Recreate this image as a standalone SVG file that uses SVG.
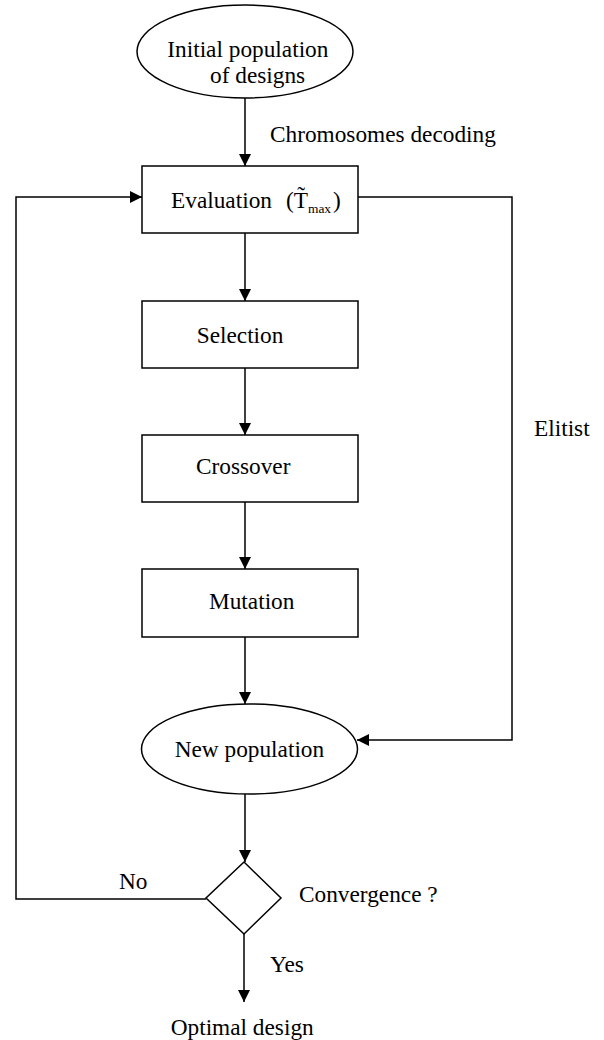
<svg xmlns="http://www.w3.org/2000/svg" width="604" height="1040" viewBox="0 0 604 1040">
<defs>
<marker id="arr" viewBox="0 0 12 12" refX="12" refY="6" markerWidth="12" markerHeight="12" markerUnits="userSpaceOnUse" orient="auto">
<path d="M0,0 L12,6 L0,12 z" fill="#000"/>
</marker>
</defs>
<rect width="604" height="1040" fill="#fff"/>
<g id="connectors" fill="none" stroke="#000" stroke-width="1.5" marker-end="url(#arr)">
<line x1="245" y1="98" x2="245" y2="166"/>
<line x1="245" y1="233" x2="245" y2="301"/>
<line x1="245" y1="368" x2="245" y2="435"/>
<line x1="245" y1="502" x2="245" y2="569"/>
<line x1="245" y1="637" x2="245" y2="704"/>
<line x1="245" y1="794" x2="245" y2="862"/>
<line x1="244" y1="934" x2="244" y2="1002"/>
<polyline points="206,899 16,899 16,197 142,197"/>
<polyline points="358,197 512,197 512,740 357,740"/>
</g>
<g id="initial">
<ellipse cx="245" cy="51.5" rx="108" ry="46.5" fill="#fff" stroke="#000" stroke-width="1.5"/>
<text x="167.3" y="57" font-family="Liberation Serif" font-size="23.3">Initial population</text>
<text x="210" y="83" font-family="Liberation Serif" font-size="23.3">of designs</text>
</g>
<text id="decoding-label" x="270" y="142" font-family="Liberation Serif" font-size="23.3">Chromosomes decoding</text>
<g id="evaluation">
<rect x="142" y="166" width="216" height="67" fill="#fff" stroke="#000" stroke-width="1.5"/>
<text x="171" y="208" font-family="Liberation Serif" font-size="23.3">Evaluation</text>
<text x="286" y="208" font-family="Liberation Serif" font-size="23.3">(T&#x303;<tspan font-size="13.4" dy="4.5">max</tspan><tspan dy="-4.5" dx="2">)</tspan></text>
</g>
<g id="selection">
<rect x="142" y="301" width="216" height="67" fill="#fff" stroke="#000" stroke-width="1.5"/>
<text x="196.7" y="342.7" font-family="Liberation Serif" font-size="23.3">Selection</text>
</g>
<g id="crossover">
<rect x="142" y="435" width="216" height="67" fill="#fff" stroke="#000" stroke-width="1.5"/>
<text x="196" y="474" font-family="Liberation Serif" font-size="23.3">Crossover</text>
</g>
<g id="mutation">
<rect x="142" y="569" width="216" height="68" fill="#fff" stroke="#000" stroke-width="1.5"/>
<text x="209" y="609.3" font-family="Liberation Serif" font-size="23.3">Mutation</text>
</g>
<text id="elitist-label" x="534" y="436" font-family="Liberation Serif" font-size="23.3">Elitist</text>
<g id="newpop">
<ellipse cx="249.5" cy="749" rx="108" ry="45" fill="#fff" stroke="#000" stroke-width="1.5"/>
<text x="174.7" y="757" font-family="Liberation Serif" font-size="23.3">New population</text>
</g>
<g id="convergence">
<polygon points="244,862 281,898 244,934 206,898" fill="#fff" stroke="#000" stroke-width="1.5"/>
<text x="299" y="902" font-family="Liberation Serif" font-size="23.3">Convergence ?</text>
</g>
<text id="no-label" x="119" y="889" font-family="Liberation Serif" font-size="23.3">No</text>
<text id="yes-label" x="270" y="972" font-family="Liberation Serif" font-size="23.3">Yes</text>
<text id="optimal" x="170.7" y="1035" font-family="Liberation Serif" font-size="23.3">Optimal design</text>
</svg>
